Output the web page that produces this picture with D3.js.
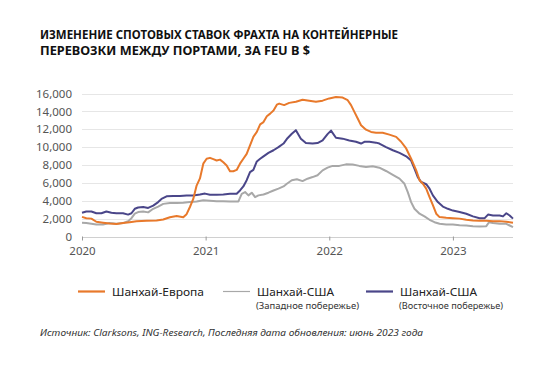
<!DOCTYPE html>
<html><head><meta charset="utf-8">
<script src="https://cdn.jsdelivr.net/npm/d3@7/dist/d3.min.js"></script>
<style>
html,body{margin:0;padding:0;background:#fff;}
svg{display:block;font-family:"Noto Sans","Open Sans",sans-serif;}
</style></head>
<body>
<svg id="chart" width="560" height="368"></svg>
<script>
// ---- data (years offset from 2020, values in $ per FEU) ----
const europeYears = [0,.035,.076,.116,.170,.224,.278,.332,.386,.441,.522,.603,.657,.711,.765,.819,.846,.873,.900,.927,.954,.981,1.008,1.035,1.062,1.089,1.116,1.143,1.170,1.197,1.224,1.251,1.278,1.305,1.332,1.359,1.386,1.414,1.441,1.468,1.495,1.522,1.549,1.576,1.595,1.635,1.676,1.730,1.784,1.838,1.892,1.946,2.0,2.054,2.108,2.149,2.176,2.203,2.230,2.257,2.297,2.338,2.378,2.432,2.486,2.541,2.581,2.622,2.662,2.703,2.730,2.757,2.784,2.811,2.838,2.865,2.892,2.946,3.0,3.054,3.108,3.162,3.216,3.270,3.324,3.378,3.432,3.486];
const europeValues = [2200,2050,2000,1650,1550,1450,1400,1500,1600,1700,1750,1800,1900,2150,2300,2150,2500,3300,4200,5700,6500,8150,8700,8800,8650,8500,8600,8300,7950,7300,7300,7450,8150,8700,9250,10200,11150,11700,12550,12800,13450,13750,14100,14750,14870,14700,14950,15070,15300,15200,15070,15200,15450,15600,15550,15250,14700,13950,13200,12450,11950,11700,11620,11600,11400,11150,10600,9850,8700,7400,6300,5900,5350,4400,3500,2550,2170,2100,2050,2000,1870,1800,1750,1750,1720,1720,1650,1530];

const westYears = [0,.035,.076,.116,.170,.224,.278,.332,.373,.400,.427,.454,.495,.535,.576,.616,.657,.711,.765,.819,.873,.927,.981,1.035,1.089,1.143,1.197,1.265,1.292,1.319,1.346,1.373,1.400,1.427,1.468,1.508,1.549,1.589,1.630,1.657,1.697,1.738,1.784,1.824,1.865,1.905,1.946,1.986,2.027,2.081,2.135,2.189,2.243,2.297,2.351,2.405,2.459,2.514,2.568,2.608,2.635,2.662,2.689,2.730,2.770,2.811,2.851,2.892,2.946,3.0,3.054,3.108,3.162,3.216,3.270,3.292,3.324,3.378,3.432,3.459,3.486];
const westValues = [1530,1500,1420,1350,1350,1500,1420,1500,1720,2050,2550,2730,2800,2700,3100,3350,3650,3750,3750,3780,3850,3920,4050,4000,3950,3950,3920,3920,4780,4970,4600,4900,4400,4600,4700,4900,5150,5350,5600,5900,6300,6400,6200,6470,6650,6850,7400,7700,7900,7900,8070,8050,7900,7780,7850,7700,7330,6900,6470,5900,4970,3850,3100,2550,2250,1870,1600,1420,1350,1350,1270,1230,1160,1120,1160,1600,1500,1420,1420,1230,1050];

const eastYears = [0,.035,.076,.116,.157,.197,.238,.278,.332,.373,.400,.427,.454,.495,.535,.576,.616,.643,.684,.738,.792,.846,.900,.954,.995,1.035,1.089,1.143,1.197,1.251,1.278,1.305,1.332,1.359,1.386,1.414,1.441,1.468,1.508,1.549,1.589,1.630,1.662,1.697,1.730,1.770,1.811,1.865,1.905,1.946,1.986,2.014,2.054,2.108,2.162,2.216,2.257,2.284,2.324,2.378,2.405,2.459,2.514,2.568,2.622,2.662,2.689,2.716,2.743,2.784,2.811,2.838,2.878,2.919,2.959,3.0,3.054,3.108,3.162,3.216,3.257,3.284,3.324,3.378,3.405,3.432,3.459,3.486];
const eastValues = [2650,2800,2800,2600,2600,2800,2650,2600,2600,2450,2600,3100,3250,3300,3200,3450,3850,4200,4500,4520,4520,4600,4600,4700,4800,4670,4670,4700,4780,4780,5150,5600,6300,7200,7450,8400,8700,8970,9350,9650,10000,10400,11000,11500,11900,10950,10450,10400,10450,10750,11450,11850,11050,10950,10750,10600,10400,10600,10600,10500,10400,10000,9650,9350,8970,8500,7600,6650,6100,5850,5350,4600,3850,3350,3100,2900,2750,2550,2250,2050,2050,2450,2350,2350,2250,2600,2350,2000];

const yTicks = [0,2000,4000,6000,8000,10000,12000,14000,16000];
const xTicks = [2020,2021,2022,2023];
const titleLines = ["ИЗМЕНЕНИЕ СПОТОВЫХ СТАВОК ФРАХТА НА КОНТЕЙНЕРНЫЕ","ПЕРЕВОЗКИ МЕЖДУ ПОРТАМИ, ЗА FEU В $"];
const seriesNames = ["Шанхай-Европа","Шанхай-США","Шанхай-США"];
const seriesSubs = ["","(Западное побережье)","(Восточное побережье)"];
const sourceText = "Источник: Clarksons, ING-Research, Последняя дата обновления: июнь 2023 года";

// ---- drawing ----
const svg = d3.select("#chart");
const colors = {europe:"#E8792B", west:"#A8A8A8", east:"#4A4689"};

const x = d3.scaleLinear().domain([2020, 2023.486]).range([82, 513]);
const y = d3.scaleLinear().domain([0, 16000]).range([236.5, 93.5]);

// title
const title = svg.append("text").attr("font-weight", 700).attr("font-size", 12).attr("fill", "#111");
title.selectAll("tspan").data(titleLines).join("tspan")
  .attr("x", 40).attr("y", (d,i) => 39 + i*16)
  .attr("textLength", (d,i) => i === 0 ? 358 : 270)
  .attr("lengthAdjust", "spacingAndGlyphs")
  .text(d => d);

// gridlines
svg.append("g").selectAll("line").data(yTicks).join("line")
  .attr("x1", 82).attr("x2", 513)
  .attr("y1", d => Math.round(y(d)) + 0.5).attr("y2", d => Math.round(y(d)) + 0.5)
  .attr("stroke", d => d === 0 ? "#d0d0d0" : "#e6e6e6").attr("stroke-width", 1);

// y axis
const yAxis = d3.axisLeft(y).tickValues(yTicks).tickFormat(d3.format(",")).tickSize(0).tickPadding(10);
const yg = svg.append("g").attr("transform", "translate(82,0)").call(yAxis);
yg.select(".domain").remove();
yg.selectAll("text").attr("font-size", 11.5).attr("fill", "#555").attr("font-family", "'Noto Sans', sans-serif");

// x axis
const xAxis = d3.axisBottom(x).tickValues(xTicks).tickFormat(d3.format("d")).tickSize(4).tickPadding(6);
const xg = svg.append("g").attr("transform", "translate(0,236.5)").call(xAxis);
xg.select(".domain").remove();
xg.selectAll(".tick line").attr("stroke", "#999");
xg.selectAll("text").attr("font-size", 11.5).attr("fill", "#555").attr("font-family", "'Noto Sans', sans-serif");

// lines
const line = d3.line().x(d => x(2020 + d[0])).y(d => y(d[1])).curve(d3.curveLinear);
const series = [
  {yrs: westYears, vals: westValues, color: colors.west},
  {yrs: eastYears, vals: eastValues, color: colors.east},
  {yrs: europeYears, vals: europeValues, color: colors.europe}
];
svg.append("g").selectAll("path").data(series).join("path")
  .attr("d", s => line(s.yrs.map((t,i) => [t, s.vals[i]])))
  .attr("fill", "none").attr("stroke", s => s.color).attr("stroke-width", 2)
  .attr("stroke-linejoin", "round");

// legend
const legendItems = [
  {lx: 78, tx: 112, color: colors.europe, name: seriesNames[0], sub: seriesSubs[0], w: 92, lw: 2.2},
  {lx: 223, tx: 257, color: colors.west, name: seriesNames[1], sub: seriesSubs[1], w: 77, lw: 1.2},
  {lx: 366, tx: 400, color: colors.east, name: seriesNames[2], sub: seriesSubs[2], w: 77, lw: 2.2}
];
const lg = svg.append("g");
legendItems.forEach((it, k) => {
  lg.append("line").attr("x1", it.lx).attr("x2", it.lx + 27).attr("y1", 291.5).attr("y2", 291.5)
    .attr("stroke", it.color).attr("stroke-width", it.lw);
  lg.append("text").attr("x", it.tx).attr("y", 295.5).attr("font-size", 11.5).attr("fill", "#222")
    .attr("textLength", it.w).attr("lengthAdjust", "spacingAndGlyphs").text(it.name);
  if (it.sub) {
    lg.append("text").attr("x", it.tx - 1).attr("y", 308.5).attr("font-size", 9).attr("fill", "#333")
      .attr("textLength", k === 1 ? 103 : 104).attr("lengthAdjust", "spacingAndGlyphs").text(it.sub);
  }
});

// source
svg.append("text").attr("x", 40).attr("y", 336).attr("font-size", 9.5).attr("font-style", "italic")
  .attr("fill", "#333").attr("textLength", 383).attr("lengthAdjust", "spacingAndGlyphs").text(sourceText);
</script>
</body></html>
